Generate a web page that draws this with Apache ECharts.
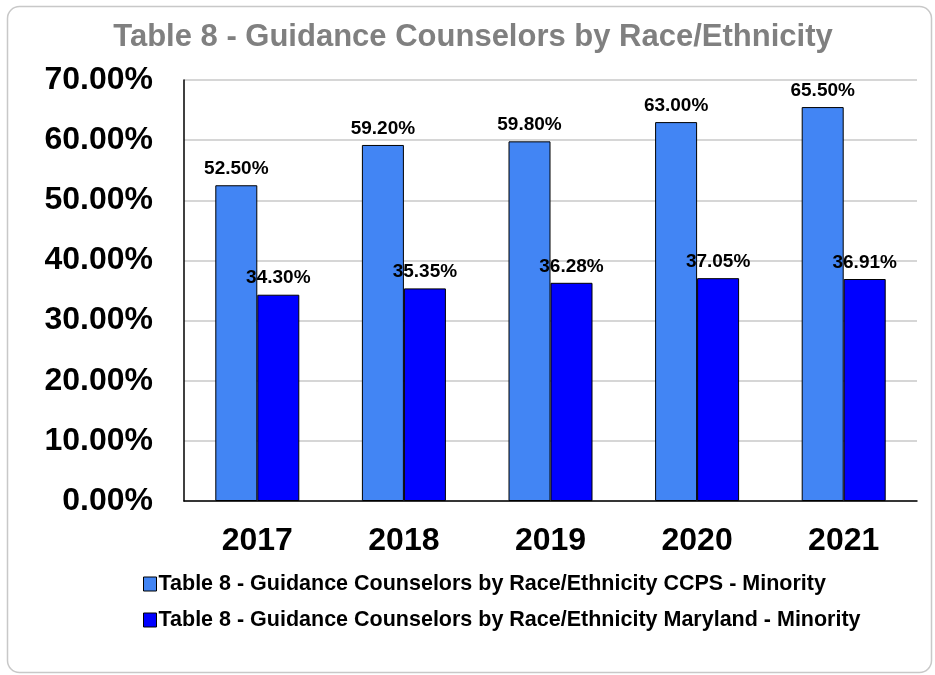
<!DOCTYPE html>
<html>
<head>
<meta charset="utf-8">
<script src="https://cdn.jsdelivr.net/npm/echarts@6/dist/echarts.min.js"></script>
<style>
  html, body { margin: 0; padding: 0; background: #ffffff; }
  #chart { width: 935px; height: 675px; }
</style>
</head>
<body>
<div id="chart"></div>
<script>
// Share of minority guidance counselors, CCPS vs. Maryland
const years = ['2017', '2018', '2019', '2020', '2021'];
const ccpsMinority = [52.50, 59.20, 59.80, 63.00, 65.50];
const marylandMinority = [34.30, 35.35, 36.28, 37.05, 36.91];
const yTicks = [0, 10, 20, 30, 40, 50, 60, 70];

const seriesNames = [
  'Table 8 - Guidance Counselors by Race/Ethnicity CCPS - Minority',
  'Table 8 - Guidance Counselors by Race/Ethnicity Maryland - Minority'
];

const FONT = '"Liberation Sans", Arial, sans-serif';
const chart = echarts.init(document.getElementById('chart'), null, { renderer: 'canvas' });

const valueLabel = {
  show: true,
  position: 'top',
  distance: 7,
  fontFamily: FONT,
  fontWeight: 'bold',
  fontSize: 19,
  color: '#000000',
  formatter: p => p.value.toFixed(2) + '%'
};

chart.setOption({
  backgroundColor: '#ffffff',
  animation: false,
  graphic: [{
    type: 'rect',
    left: 5, top: 4,
    shape: { width: 924, height: 666, r: 12 },
    style: { fill: 'none', stroke: '#c8c8c8', lineWidth: 1.5 },
    silent: true,
    z: -10
  }],
  title: {
    text: 'Table 8 - Guidance Counselors by Race/Ethnicity',
    left: 468, top: 17, textAlign: 'center',
    textStyle: { fontFamily: FONT, fontWeight: 'bold', fontSize: 31, color: '#808080' }
  },
  grid: { left: 184, right: 18, top: 80, bottom: 174, containLabel: false },
  legend: {
    orient: 'vertical',
    left: 138, top: 568,
    itemGap: 14,
    itemWidth: 13, itemHeight: 14,
    icon: 'rect',
    itemStyle: { borderColor: '#000000', borderWidth: 1 },
    textStyle: { fontFamily: FONT, fontWeight: 'bold', fontSize: 21.5, color: '#000000', padding: [0, 0, 0, -3] },
    data: seriesNames
  },
  xAxis: {
    type: 'category',
    data: years,
    axisLine: { show: true, lineStyle: { color: '#000000', width: 1.5 } },
    axisTick: { show: false },
    axisLabel: { fontFamily: FONT, fontWeight: 'bold', fontSize: 32, color: '#000000', margin: 24 }
  },
  yAxis: {
    type: 'value',
    min: yTicks[0], max: yTicks[yTicks.length - 1], interval: 10,
    axisLine: { show: true, lineStyle: { color: '#000000', width: 1.5 } },
    axisTick: { show: false },
    splitLine: { show: true, lineStyle: { color: '#c8c8c8', width: 1.5 } },
    axisLabel: {
      fontFamily: FONT, fontWeight: 'bold', fontSize: 32, color: '#000000', margin: 31,
      formatter: v => v.toFixed(2) + '%'
    }
  },
  series: [
    {
      name: seriesNames[0],
      type: 'bar',
      data: ccpsMinority,
      barWidth: 42,
      barGap: '0%',
      itemStyle: { color: '#4285f4', borderColor: '#000000', borderWidth: 1 },
      label: valueLabel
    },
    {
      name: seriesNames[1],
      type: 'bar',
      data: marylandMinority,
      barWidth: 42,
      barGap: '0%',
      itemStyle: { color: '#0000ff', borderColor: '#000000', borderWidth: 1 },
      label: valueLabel
    }
  ]
});
</script>
</body>
</html>
